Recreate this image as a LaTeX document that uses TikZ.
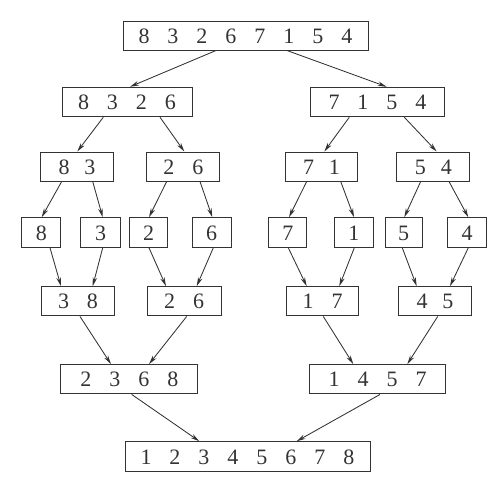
\documentclass[tikz,border=0pt]{standalone}
\usepackage{fontspec}
\setmainfont{Liberation Serif}
\usetikzlibrary{arrows.meta}
\definecolor{ink}{HTML}{333333}
\newcommand\gp{\hspace{18pt}}
\newcommand\gs{\hspace{15pt}}
\newcommand\arr[4]{\draw[conn] ([xshift=#2pt]#1.south) -- ([xshift=#4pt]#3.north);}
\begin{document}
\begin{tikzpicture}[x=1pt,y=-1pt,
  box/.style={draw=ink, line width=1pt, rectangle, inner sep=0pt,
    text height=15pt, text depth=0pt, text=ink,
    font=\fontsize{22}{25}\selectfont},
  conn/.style={draw=ink, line width=0.85pt, -{Stealth[length=9pt,width=4.5pt]}}]
\useasboundingbox (0,0) rectangle (499,491);
% level 1
\node[box, minimum width=245pt, minimum height=29pt] (t) at (245.5,35.5) {8\gp3\gp2\gp6\gp7\gp1\gp5\gp4};
% level 2
\node[box, minimum width=130pt, minimum height=29.5pt] (ll) at (127,102) {8\gp3\gp2\gp6};
\node[box, minimum width=133.6pt, minimum height=29.5pt] (rr) at (377.5,102) {7\gp1\gp5\gp4};
% level 3
\node[box, minimum width=72.6pt, minimum height=29pt] (a) at (77,166.5) {8\gs3};
\node[box, minimum width=73.3pt, minimum height=29pt] (b) at (183.3,166.5) {2\gp6};
\node[box, minimum width=72.4pt, minimum height=29pt] (c) at (321.5,166.5) {7\gs1};
\node[box, minimum width=73.3pt, minimum height=29pt] (d) at (433.3,166.5) {5\gs4};
% level 4
\node[box, minimum width=39.3pt, minimum height=29.6pt] (e8) at (41.3,232.5) {8};
\node[box, minimum width=40pt, minimum height=29.6pt] (e3) at (100.7,232.5) {3};
\node[box, minimum width=38.4pt, minimum height=29.6pt] (e2) at (148.5,232.5) {2};
\node[box, minimum width=39.3pt, minimum height=29.6pt] (e6) at (211.7,232.5) {6};
\node[box, minimum width=38.3pt, minimum height=29.6pt] (e7) at (287.8,232.5) {7};
\node[box, minimum width=39pt, minimum height=29.6pt] (e1) at (353.8,232.5) {1};
\node[box, minimum width=37.3pt, minimum height=29.6pt] (e5) at (403.7,232.5) {5};
\node[box, minimum width=39pt, minimum height=29.6pt] (e4) at (467.2,232.5) {4};
% level 5
\node[box, minimum width=72.6pt, minimum height=29.3pt] (f) at (78,301.3) {3\gp8};
\node[box, minimum width=73.7pt, minimum height=29.3pt] (g) at (184.2,301.3) {2\gp6};
\node[box, minimum width=72pt, minimum height=29.3pt] (h) at (322.7,301.3) {1\gp7};
\node[box, minimum width=72.6pt, minimum height=29.3pt] (i) at (435,301.3) {4\gs5};
% level 6
\node[box, minimum width=137.3pt, minimum height=29.3pt] (p) at (129.3,379.3) {2\gp3\gp6\gp8};
\node[box, minimum width=136pt, minimum height=29.3pt] (q) at (377.7,379.3) {1\gp4\gp5\gp7};
% level 7
\node[box, minimum width=245pt, minimum height=30pt] (z) at (247.5,456.7) {1\gp2\gp3\gp4\gp5\gp6\gp7\gp8};
% connectors
\arr{t}{-29.5}{ll}{3}
\arr{t}{41.5}{rr}{9.2}
\arr{ll}{-23.7}{a}{0.3}
\arr{ll}{33}{b}{1}
\arr{rr}{-28.2}{c}{2.8}
\arr{rr}{26.8}{d}{3.4}
\arr{a}{-15.3}{e8}{0.4}
\arr{a}{15.7}{e3}{2}
\arr{b}{-16.6}{e2}{0.5}
\arr{b}{16.7}{e6}{0.6}
\arr{c}{-14.8}{e7}{1.2}
\arr{c}{19.2}{e1}{0.2}
\arr{d}{-12.6}{e5}{0.6}
\arr{d}{15.7}{e4}{1.1}
\arr{e8}{8.7}{f}{-17}
\arr{e3}{2}{f}{14.7}
\arr{e2}{0.5}{g}{-18.2}
\arr{e6}{1.6}{g}{12.5}
\arr{e7}{0.5}{h}{-16}
\arr{e1}{0.5}{h}{16.6}
\arr{e5}{-1.4}{i}{-18.3}
\arr{e4}{1.1}{i}{15}
\arr{f}{2}{p}{-18.3}
\arr{g}{2.5}{p}{19.7}
\arr{h}{0.6}{q}{-24.4}
\arr{i}{2.7}{q}{29.6}
\arr{p}{2.4}{z}{-48.2}
\arr{q}{2.3}{z}{49.2}
\end{tikzpicture}
\end{document}
